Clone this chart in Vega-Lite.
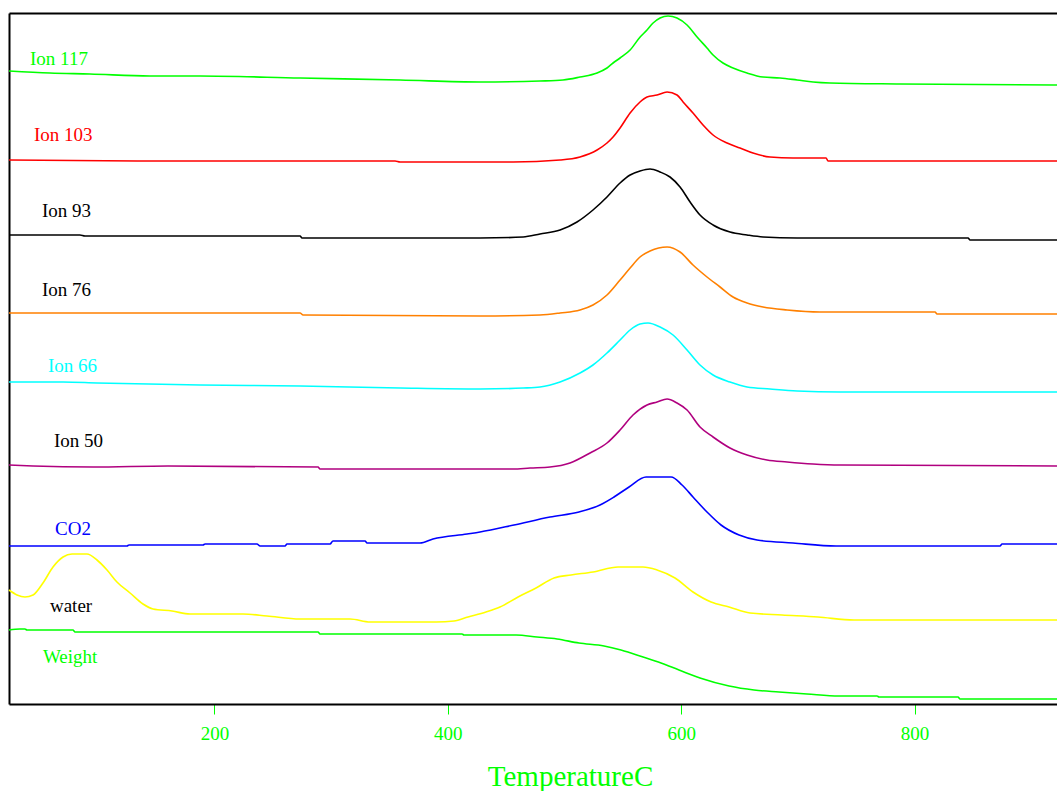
{
  "$schema": "https://vega.github.io/schema/vega-lite/v6.json",
  "width": 1048,
  "height": 691,
  "autosize": {"type": "none"},
  "padding": {"left": 9, "top": 13, "right": 0, "bottom": 87},
  "background": "white",
  "config": {"view": {"stroke": null}},
  "datasets": {
    "curves": [
      {"series": "Ion 117", "T": 24, "v": 633}, {"series": "Ion 117", "T": 59.1, "v": 631}, {"series": "Ion 117", "T": 93.4, "v": 630}, {"series": "Ion 117", "T": 144.8, "v": 628}, {"series": "Ion 117", "T": 187.7, "v": 628}, {"series": "Ion 117", "T": 273.4, "v": 626}, {"series": "Ion 117", "T": 359.1, "v": 624}, {"series": "Ion 117", "T": 427.6, "v": 622}, {"series": "Ion 117", "T": 479.0, "v": 623}, {"series": "Ion 117", "T": 498.7, "v": 624}, {"series": "Ion 117", "T": 513.3, "v": 627}, {"series": "Ion 117", "T": 527.9, "v": 631}, {"series": "Ion 117", "T": 536.4, "v": 636}, {"series": "Ion 117", "T": 541.6, "v": 641}, {"series": "Ion 117", "T": 547.6, "v": 646}, {"series": "Ion 117", "T": 556.2, "v": 654}, {"series": "Ion 117", "T": 564.8, "v": 667}, {"series": "Ion 117", "T": 570.7, "v": 674}, {"series": "Ion 117", "T": 575.9, "v": 681}, {"series": "Ion 117", "T": 581.9, "v": 686}, {"series": "Ion 117", "T": 588.7, "v": 688}, {"series": "Ion 117", "T": 596.4, "v": 686}, {"series": "Ion 117", "T": 605.0, "v": 679}, {"series": "Ion 117", "T": 613.6, "v": 667}, {"series": "Ion 117", "T": 622.1, "v": 656}, {"series": "Ion 117", "T": 627.3, "v": 649}, {"series": "Ion 117", "T": 635.8, "v": 641}, {"series": "Ion 117", "T": 644.4, "v": 636}, {"series": "Ion 117", "T": 656.4, "v": 631}, {"series": "Ion 117", "T": 670.1, "v": 627}, {"series": "Ion 117", "T": 684.7, "v": 626}, {"series": "Ion 117", "T": 699.3, "v": 624}, {"series": "Ion 117", "T": 713.0, "v": 622}, {"series": "Ion 117", "T": 727.5, "v": 621}, {"series": "Ion 117", "T": 787.5, "v": 620}, {"series": "Ion 117", "T": 922, "v": 619},

      {"series": "Ion 103", "T": 24, "v": 544}, {"series": "Ion 103", "T": 144.8, "v": 543}, {"series": "Ion 103", "T": 354.8, "v": 543}, {"series": "Ion 103", "T": 359.1, "v": 542}, {"series": "Ion 103", "T": 455.9, "v": 542}, {"series": "Ion 103", "T": 496.2, "v": 544}, {"series": "Ion 103", "T": 513.3, "v": 547}, {"series": "Ion 103", "T": 527.9, "v": 554}, {"series": "Ion 103", "T": 536.4, "v": 561}, {"series": "Ion 103", "T": 541.6, "v": 567}, {"series": "Ion 103", "T": 547.6, "v": 576}, {"series": "Ion 103", "T": 556.2, "v": 591}, {"series": "Ion 103", "T": 564.7, "v": 602}, {"series": "Ion 103", "T": 570.7, "v": 607}, {"series": "Ion 103", "T": 579.3, "v": 609}, {"series": "Ion 103", "T": 587.9, "v": 612}, {"series": "Ion 103", "T": 596.4, "v": 609}, {"series": "Ion 103", "T": 601.6, "v": 602}, {"series": "Ion 103", "T": 610.1, "v": 591}, {"series": "Ion 103", "T": 618.7, "v": 579}, {"series": "Ion 103", "T": 627.3, "v": 569}, {"series": "Ion 103", "T": 639.3, "v": 561}, {"series": "Ion 103", "T": 650.4, "v": 556}, {"series": "Ion 103", "T": 661.5, "v": 551}, {"series": "Ion 103", "T": 676.1, "v": 547}, {"series": "Ion 103", "T": 695.8, "v": 546}, {"series": "Ion 103", "T": 724.1, "v": 546}, {"series": "Ion 103", "T": 725.8, "v": 543}, {"series": "Ion 103", "T": 922, "v": 543},

      {"series": "Ion 93", "T": 24, "v": 469}, {"series": "Ion 93", "T": 84.8, "v": 469}, {"series": "Ion 93", "T": 89.1, "v": 468}, {"series": "Ion 93", "T": 273.4, "v": 468}, {"series": "Ion 93", "T": 275.1, "v": 466}, {"series": "Ion 93", "T": 427.6, "v": 466}, {"series": "Ion 93", "T": 464.5, "v": 467}, {"series": "Ion 93", "T": 479.0, "v": 470}, {"series": "Ion 93", "T": 496.2, "v": 474}, {"series": "Ion 93", "T": 510.7, "v": 482}, {"series": "Ion 93", "T": 524.4, "v": 494}, {"series": "Ion 93", "T": 536.4, "v": 507}, {"series": "Ion 93", "T": 547.6, "v": 521}, {"series": "Ion 93", "T": 556.2, "v": 529}, {"series": "Ion 93", "T": 564.7, "v": 533}, {"series": "Ion 93", "T": 573.3, "v": 535}, {"series": "Ion 93", "T": 581.9, "v": 532}, {"series": "Ion 93", "T": 590.4, "v": 527}, {"series": "Ion 93", "T": 599.0, "v": 517}, {"series": "Ion 93", "T": 607.6, "v": 502}, {"series": "Ion 93", "T": 616.1, "v": 489}, {"series": "Ion 93", "T": 627.3, "v": 479}, {"series": "Ion 93", "T": 641.8, "v": 472}, {"series": "Ion 93", "T": 656.4, "v": 469}, {"series": "Ion 93", "T": 670.1, "v": 467}, {"series": "Ion 93", "T": 699.3, "v": 466}, {"series": "Ion 93", "T": 845.8, "v": 466}, {"series": "Ion 93", "T": 847.5, "v": 464}, {"series": "Ion 93", "T": 922, "v": 464},

      {"series": "Ion 76", "T": 24, "v": 391}, {"series": "Ion 76", "T": 273.4, "v": 391}, {"series": "Ion 76", "T": 276, "v": 389}, {"series": "Ion 76", "T": 427.6, "v": 388}, {"series": "Ion 76", "T": 479.0, "v": 389}, {"series": "Ion 76", "T": 496.2, "v": 391}, {"series": "Ion 76", "T": 513.3, "v": 394}, {"series": "Ion 76", "T": 524.4, "v": 399}, {"series": "Ion 76", "T": 536.4, "v": 409}, {"series": "Ion 76", "T": 547.6, "v": 424}, {"series": "Ion 76", "T": 556.2, "v": 436}, {"series": "Ion 76", "T": 564.7, "v": 447}, {"series": "Ion 76", "T": 573.3, "v": 453}, {"series": "Ion 76", "T": 587.9, "v": 457}, {"series": "Ion 76", "T": 599.0, "v": 452}, {"series": "Ion 76", "T": 610.1, "v": 439}, {"series": "Ion 76", "T": 622.1, "v": 427}, {"series": "Ion 76", "T": 633.3, "v": 417}, {"series": "Ion 76", "T": 644.4, "v": 407}, {"series": "Ion 76", "T": 656.4, "v": 401}, {"series": "Ion 76", "T": 670.1, "v": 397}, {"series": "Ion 76", "T": 690.7, "v": 394}, {"series": "Ion 76", "T": 718.9, "v": 392}, {"series": "Ion 76", "T": 817.5, "v": 392}, {"series": "Ion 76", "T": 819.2, "v": 390}, {"series": "Ion 76", "T": 922, "v": 390},

      {"series": "Ion 66", "T": 24, "v": 322}, {"series": "Ion 66", "T": 70.3, "v": 322}, {"series": "Ion 66", "T": 99.4, "v": 321}, {"series": "Ion 66", "T": 187.7, "v": 319}, {"series": "Ion 66", "T": 273.4, "v": 318}, {"series": "Ion 66", "T": 359.1, "v": 316}, {"series": "Ion 66", "T": 427.6, "v": 315}, {"series": "Ion 66", "T": 464.5, "v": 316}, {"series": "Ion 66", "T": 479.0, "v": 317}, {"series": "Ion 66", "T": 496.2, "v": 322}, {"series": "Ion 66", "T": 513.3, "v": 331}, {"series": "Ion 66", "T": 524.4, "v": 339}, {"series": "Ion 66", "T": 536.4, "v": 351}, {"series": "Ion 66", "T": 547.6, "v": 364}, {"series": "Ion 66", "T": 556.2, "v": 374}, {"series": "Ion 66", "T": 564.7, "v": 380}, {"series": "Ion 66", "T": 571.6, "v": 381}, {"series": "Ion 66", "T": 581.9, "v": 377}, {"series": "Ion 66", "T": 593.0, "v": 369}, {"series": "Ion 66", "T": 605.0, "v": 354}, {"series": "Ion 66", "T": 616.1, "v": 339}, {"series": "Ion 66", "T": 627.3, "v": 329}, {"series": "Ion 66", "T": 641.8, "v": 322}, {"series": "Ion 66", "T": 656.4, "v": 317}, {"series": "Ion 66", "T": 676.1, "v": 315}, {"series": "Ion 66", "T": 699.3, "v": 313}, {"series": "Ion 66", "T": 736.1, "v": 312}, {"series": "Ion 66", "T": 922, "v": 312},

      {"series": "Ion 50", "T": 24, "v": 239}, {"series": "Ion 50", "T": 44.6, "v": 238}, {"series": "Ion 50", "T": 96.0, "v": 237}, {"series": "Ion 50", "T": 160.2, "v": 238}, {"series": "Ion 50", "T": 288.8, "v": 237}, {"series": "Ion 50", "T": 290.5, "v": 235}, {"series": "Ion 50", "T": 455.9, "v": 235}, {"series": "Ion 50", "T": 470.5, "v": 236}, {"series": "Ion 50", "T": 487.6, "v": 237}, {"series": "Ion 50", "T": 504.7, "v": 241}, {"series": "Ion 50", "T": 521.9, "v": 251}, {"series": "Ion 50", "T": 536.4, "v": 261}, {"series": "Ion 50", "T": 547.6, "v": 274}, {"series": "Ion 50", "T": 558.7, "v": 289}, {"series": "Ion 50", "T": 570.7, "v": 299}, {"series": "Ion 50", "T": 579.3, "v": 302}, {"series": "Ion 50", "T": 587.9, "v": 305}, {"series": "Ion 50", "T": 596.4, "v": 301}, {"series": "Ion 50", "T": 605.0, "v": 294}, {"series": "Ion 50", "T": 616.1, "v": 277}, {"series": "Ion 50", "T": 627.3, "v": 267}, {"series": "Ion 50", "T": 641.8, "v": 256}, {"series": "Ion 50", "T": 656.4, "v": 249}, {"series": "Ion 50", "T": 673.5, "v": 244}, {"series": "Ion 50", "T": 690.7, "v": 242}, {"series": "Ion 50", "T": 712.9, "v": 240}, {"series": "Ion 50", "T": 736.1, "v": 239}, {"series": "Ion 50", "T": 922, "v": 238},

      {"series": "CO2", "T": 24, "v": 158}, {"series": "CO2", "T": 125.1, "v": 158}, {"series": "CO2", "T": 126.8, "v": 159}, {"series": "CO2", "T": 190.2, "v": 159}, {"series": "CO2", "T": 192.0, "v": 160}, {"series": "CO2", "T": 236.5, "v": 160}, {"series": "CO2", "T": 239.1, "v": 158}, {"series": "CO2", "T": 260.5, "v": 158}, {"series": "CO2", "T": 262.2, "v": 160}, {"series": "CO2", "T": 299.1, "v": 160}, {"series": "CO2", "T": 301.6, "v": 163}, {"series": "CO2", "T": 329.1, "v": 163}, {"series": "CO2", "T": 330.8, "v": 161}, {"series": "CO2", "T": 376.2, "v": 161}, {"series": "CO2", "T": 387.3, "v": 165}, {"series": "CO2", "T": 416.5, "v": 170}, {"series": "CO2", "T": 427.6, "v": 172}, {"series": "CO2", "T": 456.7, "v": 179}, {"series": "CO2", "T": 487.6, "v": 187}, {"series": "CO2", "T": 512.4, "v": 192}, {"series": "CO2", "T": 530.4, "v": 199}, {"series": "CO2", "T": 542.4, "v": 207}, {"series": "CO2", "T": 555.3, "v": 217}, {"series": "CO2", "T": 569.9, "v": 227}, {"series": "CO2", "T": 591.3, "v": 227}, {"series": "CO2", "T": 600.7, "v": 219}, {"series": "CO2", "T": 610.1, "v": 207}, {"series": "CO2", "T": 622.1, "v": 192}, {"series": "CO2", "T": 634.1, "v": 179}, {"series": "CO2", "T": 649.6, "v": 169}, {"series": "CO2", "T": 665.0, "v": 164}, {"series": "CO2", "T": 695.8, "v": 161}, {"series": "CO2", "T": 732.7, "v": 158}, {"series": "CO2", "T": 873.2, "v": 158}, {"series": "CO2", "T": 874.9, "v": 160}, {"series": "CO2", "T": 922, "v": 160},

      {"series": "water", "T": 24, "v": 114}, {"series": "water", "T": 30.9, "v": 109}, {"series": "water", "T": 37.7, "v": 107}, {"series": "water", "T": 44.6, "v": 109}, {"series": "water", "T": 53.1, "v": 121}, {"series": "water", "T": 61.7, "v": 137}, {"series": "water", "T": 70.3, "v": 147}, {"series": "water", "T": 78.0, "v": 150}, {"series": "water", "T": 90.8, "v": 150}, {"series": "water", "T": 99.4, "v": 144}, {"series": "water", "T": 108.0, "v": 134}, {"series": "water", "T": 116.5, "v": 122}, {"series": "water", "T": 127.7, "v": 111}, {"series": "water", "T": 138.8, "v": 100}, {"series": "water", "T": 147.4, "v": 95}, {"series": "water", "T": 163.7, "v": 93}, {"series": "water", "T": 179.1, "v": 90}, {"series": "water", "T": 224.5, "v": 90}, {"series": "water", "T": 245.1, "v": 88}, {"series": "water", "T": 273.4, "v": 85}, {"series": "water", "T": 316.2, "v": 85}, {"series": "water", "T": 333.4, "v": 82}, {"series": "water", "T": 389.9, "v": 82}, {"series": "water", "T": 405.3, "v": 83}, {"series": "water", "T": 417.3, "v": 87}, {"series": "water", "T": 432.7, "v": 92}, {"series": "water", "T": 444.7, "v": 97}, {"series": "water", "T": 460.2, "v": 107}, {"series": "water", "T": 475.6, "v": 116}, {"series": "water", "T": 491.0, "v": 126}, {"series": "water", "T": 505.6, "v": 129}, {"series": "water", "T": 524.4, "v": 132}, {"series": "water", "T": 545.9, "v": 137}, {"series": "water", "T": 567.3, "v": 137}, {"series": "water", "T": 579.3, "v": 134}, {"series": "water", "T": 594.7, "v": 126}, {"series": "water", "T": 610.1, "v": 112}, {"series": "water", "T": 625.6, "v": 102}, {"series": "water", "T": 641.0, "v": 97}, {"series": "water", "T": 659.0, "v": 91}, {"series": "water", "T": 686.4, "v": 89}, {"series": "water", "T": 717.2, "v": 87}, {"series": "water", "T": 748.1, "v": 84}, {"series": "water", "T": 922, "v": 84},

      {"series": "Weight", "T": 24, "v": 74}, {"series": "Weight", "T": 33.4, "v": 75}, {"series": "Weight", "T": 37.7, "v": 75}, {"series": "Weight", "T": 39.4, "v": 74}, {"series": "Weight", "T": 78.8, "v": 74}, {"series": "Weight", "T": 80.6, "v": 72}, {"series": "Weight", "T": 288.8, "v": 72}, {"series": "Weight", "T": 290.5, "v": 70}, {"series": "Weight", "T": 412.2, "v": 70}, {"series": "Weight", "T": 413.9, "v": 69}, {"series": "Weight", "T": 458.5, "v": 69}, {"series": "Weight", "T": 476.4, "v": 67}, {"series": "Weight", "T": 493.6, "v": 65}, {"series": "Weight", "T": 512.4, "v": 61}, {"series": "Weight", "T": 533.9, "v": 58}, {"series": "Weight", "T": 548.4, "v": 54}, {"series": "Weight", "T": 567.3, "v": 47}, {"series": "Weight", "T": 582.7, "v": 41}, {"series": "Weight", "T": 598.1, "v": 34}, {"series": "Weight", "T": 616.1, "v": 26}, {"series": "Weight", "T": 641.0, "v": 18}, {"series": "Weight", "T": 662.4, "v": 14}, {"series": "Weight", "T": 683.8, "v": 12}, {"series": "Weight", "T": 707.8, "v": 10}, {"series": "Weight", "T": 735.2, "v": 8}, {"series": "Weight", "T": 767.8, "v": 8}, {"series": "Weight", "T": 769.5, "v": 7}, {"series": "Weight", "T": 837.2, "v": 7}, {"series": "Weight", "T": 838.9, "v": 5}, {"series": "Weight", "T": 922, "v": 5}
    ],
    "labels": [
      {"label": "Ion 117", "T": 42.0, "v": 639.5},
      {"label": "Ion 103", "T": 45.4, "v": 563.5},
      {"label": "Ion 93", "T": 52.3, "v": 487.5},
      {"label": "Ion 76", "T": 52.3, "v": 408.5},
      {"label": "Ion 66", "T": 57.4, "v": 332.5},
      {"label": "Ion 50", "T": 62.6, "v": 257.5},
      {"label": "CO2", "T": 63.4, "v": 169},
      {"label": "water", "T": 59.1, "v": 92},
      {"label": "Weight", "T": 53.1, "v": 40.7}
    ]
  },
  "layer": [
    {
      "data": {"name": "curves"},
      "mark": {"type": "line", "strokeWidth": 1.6, "interpolate": "monotone"},
      "encoding": {
        "x": {
          "field": "T", "type": "quantitative",
          "scale": {"domain": [24, 922], "nice": false, "zero": false},
          "axis": {
            "orient": "bottom", "values": [200, 400, 600, 800], "grid": false,
            "domainColor": "#000000", "domainWidth": 2,
            "tickColor": "#00ff00", "tickSize": 10, "tickWidth": 1,
            "labelColor": "#00ff00", "labelFont": "Liberation Serif", "labelFontSize": 19,
            "labelPadding": 10, "labelFlush": false, "labelOverlap": false,
            "title": "TemperatureC", "titleColor": "#00ff00", "titleFont": "Liberation Serif",
            "titleFontSize": 29, "titleFontWeight": "normal", "titleX": 561, "titleY": 81,
            "titleAlign": "center", "titleBaseline": "alphabetic"
          }
        },
        "y": {
          "field": "v", "type": "quantitative",
          "scale": {"domain": [0, 691], "nice": false, "zero": false},
          "axis": {"orient": "left", "grid": false, "ticks": false, "labels": false, "title": null, "domainColor": "#000000", "domainWidth": 2}
        },
        "detail": {"field": "series"},
        "color": {
          "field": "series", "type": "nominal", "legend": null,
          "scale": {
            "domain": ["Ion 117", "Ion 103", "Ion 93", "Ion 76", "Ion 66", "Ion 50", "CO2", "water", "Weight"],
            "range": ["#00ff00", "#ff0000", "#000000", "#ff8000", "#00ffff", "#b0007f", "#0000ff", "#ffff00", "#00ff00"]
          }
        }
      }
    },
    {
      "data": {"name": "labels"},
      "mark": {"type": "text", "align": "left", "baseline": "alphabetic", "font": "Liberation Serif", "fontSize": 19},
      "encoding": {
        "x": {
          "field": "T", "type": "quantitative",
          "axis": {"orient": "top", "grid": false, "ticks": false, "labels": false, "title": null, "domainColor": "#000000", "domainWidth": 2}
        },
        "y": {
          "field": "v", "type": "quantitative",
          "axis": {"orient": "left", "grid": false, "ticks": false, "labels": false, "title": null, "domainColor": "#000000", "domainWidth": 2}
        },
        "text": {"field": "label"},
        "color": {
          "field": "label", "type": "nominal", "legend": null,
          "scale": {
            "domain": ["Ion 117", "Ion 103", "Ion 93", "Ion 76", "Ion 66", "Ion 50", "CO2", "water", "Weight"],
            "range": ["#00ff00", "#ff0000", "#000000", "#000000", "#00ffff", "#000000", "#0000ff", "#000000", "#00ff00"]
          }
        }
      }
    }
  ],
  "resolve": {"axis": {"x": "independent"}, "scale": {"color": "independent"}}
}
